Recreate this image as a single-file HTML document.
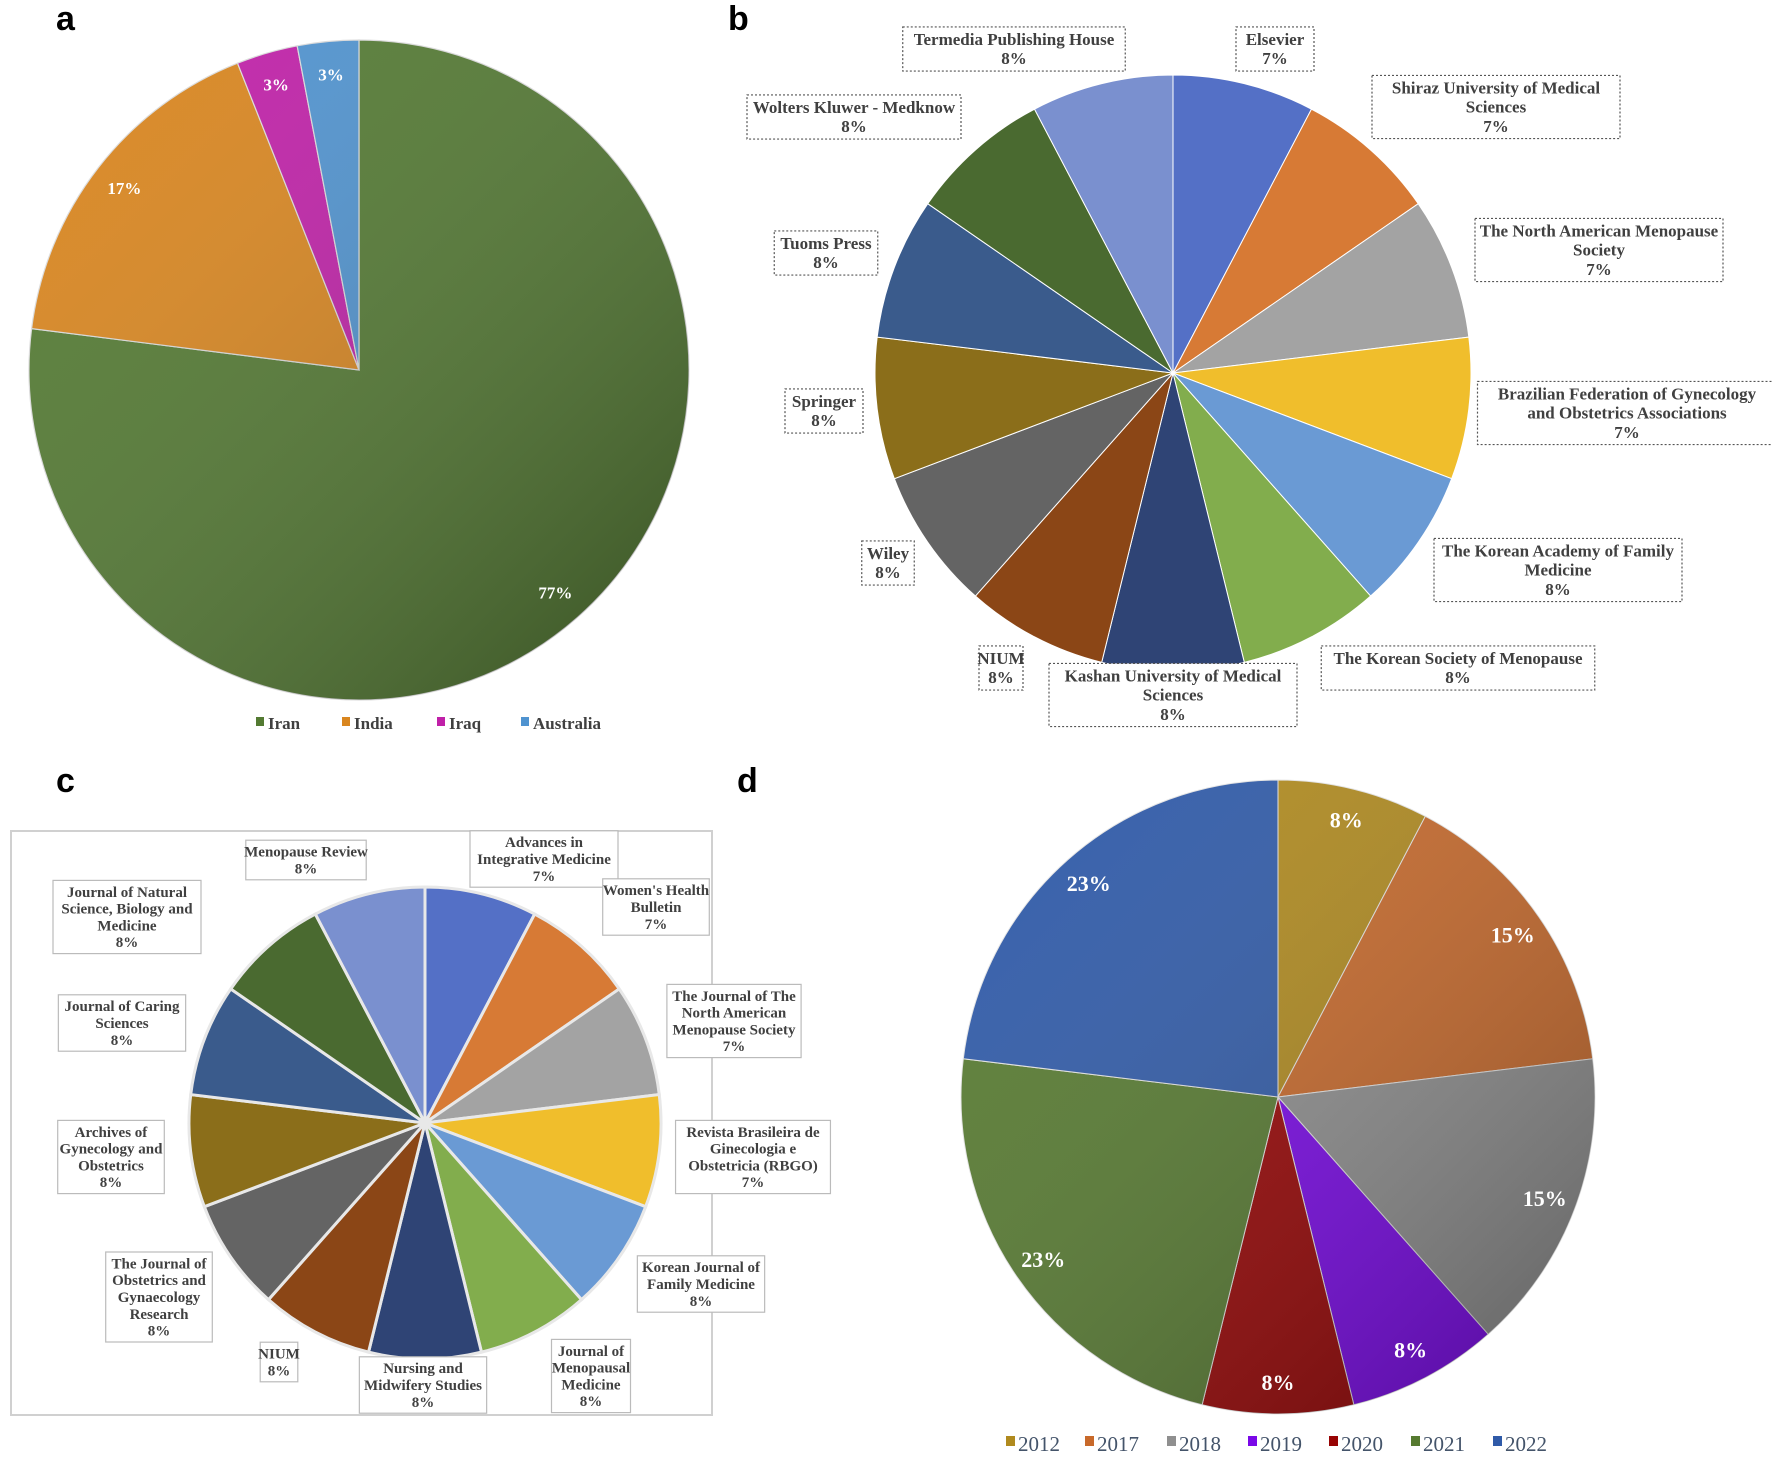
<!DOCTYPE html>
<html><head><meta charset="utf-8">
<style>
body{margin:0;background:#fff;}
svg text{font-family:"Liberation Serif",serif;}
</style></head>
<body>
<svg id="fig" width="1772" height="1454" viewBox="0 0 1772 1454" xmlns="http://www.w3.org/2000/svg">
<defs>
<linearGradient id="shade" x1="0" y1="0" x2="1" y2="1">
<stop offset="0" stop-color="#fff" stop-opacity="0.03"/>
<stop offset="1" stop-color="#000" stop-opacity="0.35"/>
</linearGradient>
</defs>
<text x="56" y="30" font-size="34" font-weight="bold" style="font-family:'Liberation Sans',sans-serif">a</text>
<text x="728" y="30" font-size="34" font-weight="bold" style="font-family:'Liberation Sans',sans-serif">b</text>
<text x="56" y="792" font-size="34" font-weight="bold" style="font-family:'Liberation Sans',sans-serif">c</text>
<text x="737" y="792" font-size="34" font-weight="bold" style="font-family:'Liberation Sans',sans-serif">d</text>
<rect x="11" y="831" width="701" height="584" fill="none" stroke="#d0d0d0" stroke-width="2"/>
<g id="pa"></g><g id="pb"></g><g id="pc"></g><g id="pd"></g>
</svg>
<script>
// Panel a
const aCats=["Iran","India","Iraq","Australia"];
const aVals=[77,17,3,3];
const aLabels=["77%","17%","3%","3%"];
const aColors=["#537a32","#d9861f","#c020a8","#4f93d0"];
// Panel b
const bCats=["Elsevier","Shiraz University of Medical Sciences","The North American Menopause Society","Brazilian Federation of Gynecology and Obstetrics Associations","The Korean Academy of Family Medicine","The Korean Society of Menopause","Kashan University of Medical Sciences","NIUM","Wiley","Springer","Tuoms Press","Wolters Kluwer - Medknow","Termedia Publishing House"];
const bVals=[1,1,1,1,1,1,1,1,1,1,1,1,1];
const bPct=["7%","7%","7%","7%","8%","8%","8%","8%","8%","8%","8%","8%","8%"];
// Panel c
const cCats=["Advances in Integrative Medicine","Women's Health Bulletin","The Journal of The North American Menopause Society","Revista Brasileira de Ginecologia e Obstetricia (RBGO)","Korean Journal of Family Medicine","Journal of Menopausal Medicine","Nursing and Midwifery Studies","NIUM","The Journal of Obstetrics and Gynaecology Research","Archives of Gynecology and Obstetrics","Journal of Caring Sciences","Journal of Natural Science, Biology and Medicine","Menopause Review"];
const cVals=[1,1,1,1,1,1,1,1,1,1,1,1,1];
const cPct=["7%","7%","7%","7%","8%","8%","8%","8%","8%","8%","8%","8%","8%"];
// Panel d
const dCats=["2012","2017","2018","2019","2020","2021","2022"];
const dVals=[1,2,2,1,1,3,3];
const dLabels=["8%","15%","15%","8%","8%","23%","23%"];
const dColors=["#b08a1e","#c8692a","#8f8f8f","#7a08e8","#980404","#567a30","#2f5aa8"];

const pubColors=["#5470c6","#d77a35","#a3a3a3","#f0be2c","#6a9ad4","#82ad4d","#2f4475","#8b4616","#646464","#8b6e1a","#3a5b8c","#4a6a30","#7a90cf"];
const bBoxes=[[1275,49,["Elsevier"]],[1496,107,["Shiraz University of Medical","Sciences"]],[1599,250,["The North American Menopause","Society"]],[1627,413,["Brazilian Federation of Gynecology","and Obstetrics Associations"]],[1558,570,["The Korean Academy of Family","Medicine"]],[1458,668,["The Korean Society of Menopause"]],[1173,695,["Kashan University of Medical","Sciences"]],[1001,668,["NIUM"]],[888,563,["Wiley"]],[824,411,["Springer"]],[826,253,["Tuoms Press"]],[854,117,["Wolters Kluwer - Medknow"]],[1014,49,["Termedia Publishing House"]]];
const cBoxes=[[544,859,["Advances in","Integrative Medicine"]],[656,907,["Women's Health","Bulletin"]],[734,1021,["The Journal of The","North American","Menopause Society"]],[753,1157,["Revista Brasileira de","Ginecologia e","Obstetricia (RBGO)"]],[701,1284,["Korean Journal of","Family Medicine"]],[591,1376,["Journal of","Menopausal","Medicine"]],[423,1385,["Nursing and","Midwifery Studies"]],[279,1362,["NIUM"]],[159,1297,["The Journal of","Obstetrics and","Gynaecology","Research"]],[111,1157,["Archives of","Gynecology and","Obstetrics"]],[122,1023,["Journal of Caring","Sciences"]],[127,917,["Journal of Natural","Science, Biology and","Medicine"]],[306,860,["Menopause Review"]]];

const NS="http://www.w3.org/2000/svg";
function mk(parent,tag,attrs){const e=document.createElementNS(NS,tag);for(const k in attrs)e.setAttribute(k,attrs[k]);parent.appendChild(e);return e;}
function pt(cx,cy,r,a){return [cx+r*Math.cos(a),cy+r*Math.sin(a)];}
function angles(vals){const t=vals.reduce((s,v)=>s+v,0);let acc=0;return vals.map(v=>{const a0=-Math.PI/2+acc/t*2*Math.PI;acc+=v;const a1=-Math.PI/2+acc/t*2*Math.PI;return [a0,a1];});}
function drawPie(g,cx,cy,r,vals,colors,stroke,sw,names){
  angles(vals).forEach(([a0,a1],i)=>{
    const p0=pt(cx,cy,r,a0),p1=pt(cx,cy,r,a1);const large=(a1-a0)>Math.PI?1:0;
    const p=mk(g,"path",{d:`M${cx},${cy}L${p0[0]},${p0[1]}A${r},${r} 0 ${large} 1 ${p1[0]},${p1[1]}Z`,fill:colors[i],stroke:stroke,"stroke-width":sw});
    
    
  });
}
function slug(s){return s.toLowerCase().replace(/[^a-z0-9]+/g,'-').replace(/^-|-$/g,'');}
function pieLabels(g,cx,cy,r,vals,labels,frac,size){
  angles(vals).forEach(([a0,a1],i)=>{const m=(a0+a1)/2;const q=pt(cx,cy,r*frac,m);
    const t=mk(g,"text",{x:q[0],y:q[1]+size*0.35,"font-size":size,"font-weight":"bold",fill:"#fff","text-anchor":"middle"});t.textContent=labels[i];
    
    });
}
function box(g,cx,cy,lines,size,dash,stroke,cw){
  const lh=size*1.12;const w=Math.max(...lines.map(l=>l.length))*size*cw+10;const h=lines.length*lh+6;
  const r=mk(g,"rect",{x:cx-w/2,y:cy-h/2,width:w,height:h,fill:"#fff",stroke:stroke,"stroke-width":1.2,"stroke-dasharray":dash});
  
  
  lines.forEach((l,j)=>{const t=mk(g,"text",{x:cx,y:cy-h/2+3+lh*(j+0.8),"font-size":size,"font-weight":"bold",fill:"#404040","text-anchor":"middle"});t.textContent=l;
    
    });
}
// a
const ga=document.getElementById('pa');
drawPie(ga,359,370,330,aVals,aColors,"#ddd",1.2,aCats.map(c=>'slice-'+slug(c)));
mk(ga,"circle",{cx:359,cy:370,r:330,fill:"url(#shade)"});
pieLabels(ga,359,370,330,aVals,aLabels,0.9,17);
const aLx=[268,354,449,533];
aCats.forEach((c,i)=>{const s=mk(ga,"rect",{x:aLx[i]-12,y:717,width:8,height:9,fill:aColors[i]});
  
  
  const t=mk(ga,"text",{x:aLx[i],y:729,"font-size":17,"font-weight":"bold",fill:"#404040"});t.textContent=c;
  
  });
// b
const gb=document.getElementById('pb');
drawPie(gb,1173,373,298,bVals,pubColors,"#fff",1,bCats.map(c=>'slice-'+slug(c)));
bCats.forEach((c,i)=>box(gb,bBoxes[i][0],bBoxes[i][1],[...bBoxes[i][2],bPct[i]],17,"2,2","#555",0.5));
// c
const gc=document.getElementById('pc');
drawPie(gc,425,1123,236,cVals,pubColors,"#e8e8e8",3,cCats.map(c=>'slice-'+slug(c)));
cCats.forEach((c,i)=>box(gc,cBoxes[i][0],cBoxes[i][1],[...cBoxes[i][2],cPct[i]],15,"none","#bbb",0.46));
// d
const gd=document.getElementById('pd');
drawPie(gd,1278,1097,317,dVals,dColors,"#e6e6e6",1,dCats.map(c=>'slice-'+c));
mk(gd,"circle",{cx:1278,cy:1097,r:317,fill:"url(#shade)"});
pieLabels(gd,1278,1097,317,dVals,dLabels,0.9,22);
const dLx=[1020,1099,1181,1262,1343,1425,1507];
dCats.forEach((c,i)=>{const s=mk(gd,"rect",{x:dLx[i]-14,y:1436,width:9,height:10,fill:dColors[i]});
  
  
  const t=mk(gd,"text",{x:dLx[i]-2,y:1451,"font-size":21,fill:"#44546a"});t.textContent=c;
  
  });
</script>
</body></html>
